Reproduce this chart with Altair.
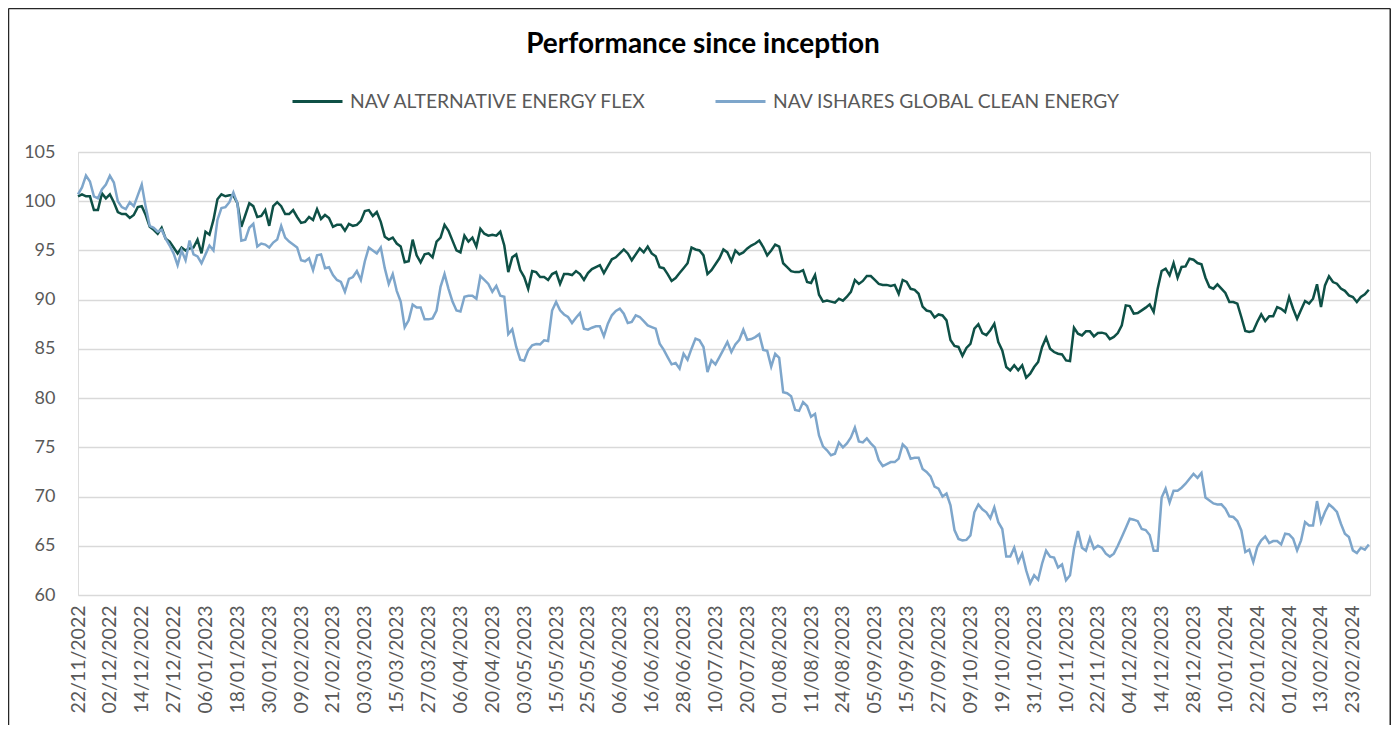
import altair as alt
import pandas as pd

series_names = ["NAV ALTERNATIVE ENERGY FLEX", "NAV ISHARES GLOBAL CLEAN ENERGY"]
series_colors = ["#0e5046", "#7ea6cb"]

tick_labels = [
    "22/11/2022", "02/12/2022", "14/12/2022", "27/12/2022", "06/01/2023", "18/01/2023",
    "30/01/2023", "09/02/2023", "21/02/2023", "03/03/2023", "15/03/2023", "27/03/2023",
    "06/04/2023", "20/04/2023", "03/05/2023", "15/05/2023", "25/05/2023", "06/06/2023",
    "16/06/2023", "28/06/2023", "10/07/2023", "20/07/2023", "01/08/2023", "11/08/2023",
    "24/08/2023", "05/09/2023", "15/09/2023", "27/09/2023", "09/10/2023", "19/10/2023",
    "31/10/2023", "10/11/2023", "22/11/2023", "04/12/2023", "14/12/2023", "28/12/2023",
    "10/01/2024", "22/01/2024", "01/02/2024", "13/02/2024", "23/02/2024",
]

alt_flex = [
    100.5, 100.7, 100.5, 100.5, 99.1, 99.1, 100.8, 100.3, 100.7, 99.9,
    98.9, 98.7, 98.7, 98.3, 98.6, 99.4, 99.5, 98.6, 97.4, 97.1,
    96.7, 97.3, 96.2, 95.9, 95.3, 94.7, 95.3, 95.0, 95.2, 95.3,
    96.1, 94.7, 96.9, 96.6, 98.1, 100.2, 100.7, 100.5, 100.6, 100.6,
    99.8, 97.4, 98.6, 99.8, 99.5, 98.4, 98.5, 99.1, 97.5, 99.5,
    99.9, 99.5, 98.7, 98.7, 99.1, 98.4, 97.8, 97.9, 98.4, 98.1,
    99.2, 98.2, 98.6, 98.3, 97.4, 97.6, 97.6, 97.0, 97.7, 97.5,
    97.6, 98.0, 99.0, 99.1, 98.5, 98.9, 97.9, 96.4, 96.1, 96.3,
    95.7, 95.4, 93.8, 93.9, 96.1, 94.5, 93.8, 94.6, 94.7, 94.3,
    95.9, 96.3, 97.6, 97.0, 96.0, 95.0, 94.8, 96.5, 95.9, 96.3,
    95.4, 97.2, 96.7, 96.5, 96.6, 96.5, 96.9, 95.5, 92.8, 94.3,
    94.6, 93.0, 92.3, 91.1, 92.9, 92.8, 92.3, 92.3, 92.0, 92.6,
    92.8, 91.6, 92.6, 92.6, 92.5, 92.9, 92.6, 92.0, 92.7, 93.1,
    93.3, 93.5, 92.7, 93.4, 94.1, 94.3, 94.7, 95.1, 94.7, 94.0,
    94.6, 95.2, 94.8, 95.4, 94.7, 94.4, 93.3, 93.2, 92.6, 91.9,
    92.2, 92.7, 93.2, 93.7, 95.3, 95.1, 95.0, 94.5, 92.6, 93.0,
    93.6, 94.2, 95.1, 94.8, 93.9, 95.0, 94.6, 94.8, 95.2, 95.5,
    95.7, 96.0, 95.35, 94.5, 95.0, 95.6, 95.4, 93.7, 93.3, 92.9,
    92.8, 92.8, 93.0, 91.8, 91.7, 92.5, 90.5, 89.8, 89.9, 89.8,
    89.7, 90.1, 89.9, 90.3, 90.8, 92.0, 91.6, 91.9, 92.4, 92.4,
    92.0, 91.6, 91.5, 91.5, 91.4, 91.5, 90.6, 92.0, 91.8, 91.1,
    91.0, 90.6, 89.3, 88.9, 88.8, 88.2, 88.5, 88.4, 87.9, 85.9,
    85.3, 85.2, 84.3, 85.1, 85.5, 87.05, 87.5, 86.6, 86.4, 86.9,
    87.56, 85.7, 84.85, 83.16, 82.82, 83.33, 82.82, 83.33, 82.07, 82.48,
    83.16, 83.67, 85.19, 86.14, 85.02, 84.68, 84.51, 84.44, 83.83, 83.77,
    87.15, 86.54, 86.37, 86.78, 86.78, 86.27, 86.61, 86.65, 86.54, 86.0,
    86.21, 86.61, 87.39, 89.42, 89.35, 88.58, 88.64, 88.91, 89.19, 89.52,
    88.75, 91.12, 92.91, 93.15, 92.47, 93.72, 92.23, 93.32, 93.38, 94.16,
    94.06, 93.72, 93.59, 92.23, 91.29, 91.12, 91.56, 91.12, 90.68, 89.76,
    89.76, 89.59, 88.24, 86.82, 86.71, 86.82, 87.73, 88.51, 87.83, 88.31,
    88.31, 89.25, 89.08, 88.75, 90.27, 89.08, 88.07, 88.98, 89.86, 89.6,
    90.10, 91.56, 89.25, 91.45, 92.37, 91.79, 91.62, 91.12, 90.9, 90.44,
    90.27, 89.76, 90.27, 90.54, 91.01,
]

ishares = [
    100.7, 101.4, 102.6, 102.0, 100.5, 100.3, 101.2, 101.7, 102.6, 101.9,
    100.0, 99.4, 99.2, 99.9, 99.5, 100.6, 101.7, 99.4, 97.5, 97.3,
    96.9, 97.1, 96.2, 95.5, 94.7, 93.5, 95.0, 94.0, 96.0, 94.6,
    94.4, 93.7, 94.6, 95.5, 95.0, 98.1, 99.3, 99.4, 99.9, 100.9,
    99.8, 96.0, 96.1, 97.3, 97.7, 95.4, 95.7, 95.6, 95.3, 95.8,
    96.1, 97.5, 96.3, 95.9, 95.6, 95.3, 94.0, 93.9, 94.2, 93.0,
    94.5, 94.6, 93.2, 93.3, 92.5, 92.0, 91.8, 90.8, 92.1, 92.3,
    92.9, 92.0, 93.9, 95.3, 95.0, 94.7, 95.3, 93.2, 91.6, 92.6,
    90.9, 89.8, 87.2, 87.9, 89.5, 89.2, 89.2, 88.0, 88.0, 88.1,
    88.9, 91.3, 92.6, 91.1, 89.8, 88.9, 88.8, 90.3, 90.4, 90.4,
    90.1, 92.4, 92.0, 91.6, 90.8, 91.4, 90.4, 90.3, 86.5, 87.0,
    85.2, 83.9, 83.8, 84.85, 85.36, 85.5, 85.46, 85.87, 85.8, 88.9,
    89.76, 88.91, 88.5, 88.24, 87.63, 88.17, 88.64, 87.05, 86.95, 87.15,
    87.29, 87.29, 86.27, 87.56, 88.41, 88.85, 89.08, 88.58, 87.63, 87.73,
    88.41, 88.24, 87.83, 87.39, 87.22, 87.05, 85.53, 84.92, 84.17, 83.43,
    83.56, 82.99, 84.51, 83.90, 85.02, 86.04, 85.87, 85.19, 82.65, 83.83,
    83.43, 84.17, 84.92, 85.70, 84.68, 85.46, 85.93, 86.95, 85.93, 86.0,
    86.2, 86.5, 84.9, 84.8, 83.2, 84.5, 84.1, 80.6, 80.5, 80.2,
    78.8, 78.7, 79.6, 79.2, 78.1, 78.4, 76.2, 75.1, 74.7, 74.2,
    74.35, 75.5, 75.0, 75.4, 76.0, 77.0, 75.6, 75.5, 75.9, 75.4,
    75.0, 73.7, 73.1, 73.3, 73.5, 73.5, 73.85, 75.3, 74.9, 73.85,
    73.95, 73.95, 72.8, 72.5, 72.05, 71.0, 70.8, 70.0, 70.3, 69.1,
    66.6, 65.7, 65.55, 65.6, 66.06, 68.4, 69.2, 68.7, 68.4, 67.8,
    68.9, 67.4, 66.7, 63.9, 63.9, 64.8, 63.35, 64.2, 62.5, 61.2,
    62.0, 61.55, 63.2, 64.5, 63.9, 63.8, 62.8, 63.1, 61.5, 62.0,
    64.7, 66.5, 64.8, 64.5, 65.8, 64.7, 65.0, 64.8, 64.2, 63.9,
    64.2, 65.0, 65.9, 66.8, 67.75, 67.65, 67.5, 66.7, 66.6, 66.1,
    64.5, 64.5, 69.9, 70.8, 69.4, 70.6, 70.6, 70.9, 71.3, 71.8,
    72.3, 71.9, 72.4, 69.9, 69.6, 69.3, 69.2, 69.21, 68.77, 67.99,
    67.92, 67.51, 66.56, 64.36, 64.60, 63.35, 64.87, 65.55, 65.95, 65.28,
    65.48, 65.48, 65.14, 66.23, 66.16, 65.72, 64.53, 65.55, 67.41, 67.07,
    67.07, 69.54, 67.41, 68.43, 69.21, 68.87, 68.43, 67.24, 66.23, 65.89,
    64.53, 64.26, 64.80, 64.60, 65.14,
]

y_ticks = [60, 65, 70, 75, 80, 85, 90, 95, 100, 105]

assert len(alt_flex) == len(ishares) == 325

n = len(alt_flex)
df = pd.DataFrame({
    "i": list(range(n)) * 2,
    "value": alt_flex + ishares,
    "series": [series_names[0]] * n + [series_names[1]] * n,
})

label_expr = "[" + ",".join("'" + t + "'" for t in tick_labels) + "][round(datum.value / 8)]"

FONT = "Lato"
W, H = 1292, 443
PAD = {"left": 70, "top": 144, "right": 21, "bottom": 130}

lines = alt.Chart(df).mark_line(strokeWidth=2.5).encode(
    x=alt.X(
        "i:Q",
        scale=alt.Scale(domain=[0, 324.3], nice=False, zero=False),
        axis=alt.Axis(
            values=list(range(0, 8 * len(tick_labels), 8)),
            labelExpr=label_expr,
            labelAngle=270,
            labelOverlap=False,
            labelFlush=False,
            grid=False,
            ticks=False,
            domain=False,
            labelPadding=10,
            labelFontSize=19.5,
            labelColor="#595959",
            labelFont=FONT,
            title=None,
        ),
    ),
    y=alt.Y(
        "value:Q",
        scale=alt.Scale(domain=[60, 105], nice=False, zero=False),
        axis=alt.Axis(
            values=y_ticks,
            grid=True,
            gridColor="#d9d9d9",
            gridWidth=1.5,
            ticks=False,
            domain=False,
            labelPadding=23,
            labelFontSize=18,
            labelColor="#595959",
            labelFont=FONT,
            title=None,
        ),
    ),
    color=alt.Color(
        "series:N",
        scale=alt.Scale(domain=series_names, range=series_colors),
        legend=alt.Legend(
            title=None,
            orient="none",
            legendX=213,
            legendY=-77,
            direction="horizontal",
            symbolType="stroke",
            symbolSize=2500,
            symbolStrokeWidth=3,
            labelFontSize=19.3,
            labelColor="#595959",
            labelFont=FONT,
            labelOffset=6,
            labelLimit=0,
            columnPadding=62,
            padding=0,
        ),
    ),
)

frame_df = pd.DataFrame({"k": [0]})
frame_left = alt.Chart(frame_df).mark_rule(color="#262626", strokeWidth=1.5).encode(
    x=alt.value(-69.5), y=alt.value(-143.5), y2=alt.value(H + PAD["bottom"])
)
frame_right = alt.Chart(frame_df).mark_rule(color="#262626", strokeWidth=1.5).encode(
    x=alt.value(W + PAD["right"] - 0.75), y=alt.value(-143.5), y2=alt.value(H + PAD["bottom"])
)
frame_top = alt.Chart(frame_df).mark_rule(color="#262626", strokeWidth=1.5).encode(
    x=alt.value(-69.5), x2=alt.value(W + PAD["right"] - 0.75), y=alt.value(-143.5)
)

chart = alt.layer(lines, frame_left, frame_right, frame_top).properties(
    width=W,
    height=H,
    padding=PAD,
    autosize=alt.AutoSizeParams(type="none"),
    title=alt.TitleParams(
        "Performance since inception",
        font=FONT,
        fontSize=28,
        fontWeight="bold",
        color="#000000",
        anchor="middle",
        dx=-21,
        offset=-51,
    ),
).configure_view(stroke=None).configure(background="white")

chart.save("out.html", embed_options={"renderer": "svg", "actions": False})
